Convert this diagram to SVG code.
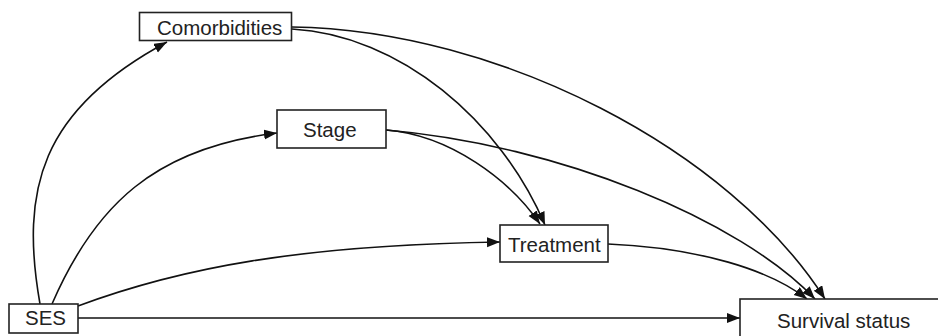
<svg xmlns="http://www.w3.org/2000/svg" width="938" height="336" viewBox="0 0 938 336">
<style>
.box{fill:#fff;stroke:#222;stroke-width:1.6}
.lbl{font-family:"Liberation Sans",Arial,sans-serif;font-size:20.5px;fill:#222}
.edge{fill:none;stroke:#111;stroke-width:1.6;marker-end:url(#arr)}
</style>
<defs>
<marker id="arr" markerUnits="userSpaceOnUse" markerWidth="15" markerHeight="11" refX="13" refY="5" orient="auto">
<path d="M0,0 L13,5 L0,10 z" fill="#111"/>
</marker>
</defs>
<rect width="938" height="336" fill="#fff"/>
<g id="connectors">
<path class="edge" d="M40,304 C20,190 40,110 167,42"/>
<path class="edge" d="M52,304 C95,205 155,148 277,133"/>
<path class="edge" d="M78,306 C180,268 300,245 500,242"/>
<path class="edge" d="M78,318 L740,318"/>
<path class="edge" d="M292,29 C400,35 500,120 545,225"/>
<path class="edge" d="M292,27 C500,30 730,150 825,299"/>
<path class="edge" d="M386,130 C450,135 510,180 540,224"/>
<path class="edge" d="M386,130 C560,145 740,220 815,299"/>
<path class="edge" d="M608,244 C700,248 770,270 807,299"/>
</g>
<g id="comorbidities">
<rect class="box" x="139.5" y="12.5" width="152" height="28"/>
<text class="lbl" x="157" y="35">Comorbidities</text>
</g>
<g id="stage">
<rect class="box" x="277" y="110" width="109" height="38"/>
<text class="lbl" x="303" y="137">Stage</text>
</g>
<g id="treatment">
<rect class="box" x="500" y="225" width="108" height="37"/>
<text class="lbl" x="508" y="252">Treatment</text>
</g>
<g id="ses">
<rect class="box" x="9" y="304" width="69" height="29"/>
<text class="lbl" x="25" y="325">SES</text>
</g>
<g id="survival">
<rect class="box" x="740" y="299" width="220" height="50"/>
<text class="lbl" x="777" y="328">Survival status</text>
</g>
</svg>
